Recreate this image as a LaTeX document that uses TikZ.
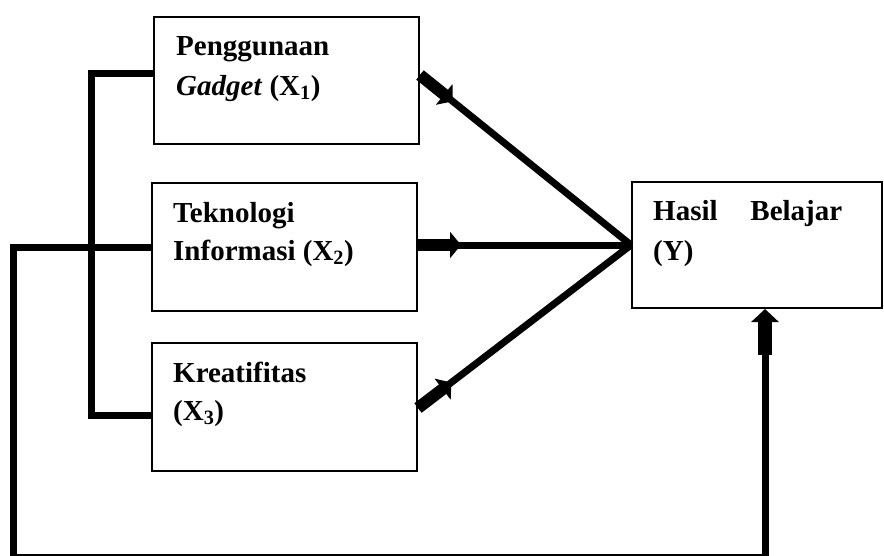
\documentclass[tikz,border=0pt]{standalone}
\usepackage{fontspec}
\setmainfont{Liberation Serif}
\usetikzlibrary{arrows.meta,calc}
\begin{document}
\begin{tikzpicture}[x=1pt,y=-1pt,
  box/.style={draw,line width=2pt,minimum width=265pt,minimum height=128pt,inner sep=0pt},
  lbl/.style={anchor=base west,inner sep=0pt,font=\fontsize{29}{40}\selectfont\bfseries},
  link/.style={line width=7pt,line join=miter,line cap=butt},
  thinline/.style={line width=7pt,line cap=butt},
  head/.style={line width=12pt,line cap=butt,-{Triangle[width=26pt,length=11pt]}},
  uphead/.style={line width=14pt,line cap=butt,-{Triangle[width=27pt,length=13pt]}}]
\useasboundingbox (0,0) rectangle (884,555);
% boxes
\node[box,minimum height=127pt] (x1) at (286.5,80.5) {};
\node[box] (x2) at (284.5,247) {};
\node[box] (x3) at (284.5,407) {};
\node[box,minimum width=250pt,minimum height=126pt] (yb) at (757,245) {};
% texts
\node[lbl] (t1a) at (176,55) {Penggunaan};
\node[lbl] (t1b) at (176,95) {\textit{Gadget} (X\textsubscript{1})};
\node[lbl] (t2a) at (173,222) {Teknologi};
\node[lbl] (t2b) at (173,260) {Informasi (X\textsubscript{2})};
\node[lbl] (t3a) at (173,382) {Kreatifitas};
\node[lbl] (t3b) at (173,420) {(X\textsubscript{3})};
\node[lbl] (tya) at (653,220) {\makebox[189pt][s]{Hasil Belajar}};
\node[lbl] (tyb) at (653,260) {(Y)};
% bracket joining X1 and X3
\coordinate (x1l) at ($(x1.west)+(0,-7.5)$);
\coordinate (x3l) at ($(x3.west)+(0,8)$);
\coordinate (bk) at (91,0);
\draw[link] (x1l) -| (bk |- x3l) -- (x3l);
% outer loop from X2 to Y
\coordinate (ol) at (13,557);
\coordinate (orr) at (765,557);
\coordinate (yin) at ($(yb.south)+(8,0)$);
\coordinate (yarr) at (765,355);
\draw[link] (x2.west) -| (ol) -- (orr) -- (yarr);
\draw[uphead] (yarr) -- (yin);
% arrows to Y
\coordinate (s1) at ($(x1.east)+(0,-5.5)$);
\coordinate (s2) at (x2.east |- yb.west);
\coordinate (s3) at ($(x3.east)+(0,1)$);
\draw[thinline] (s1) -- (yb.west);
\draw[thinline] (s2) -- (yb.west);
\draw[thinline] (s3) -- (yb.west);
\draw[head] (s1) -- ($(s1)!42pt!(yb.west)$);
\draw[head] (s2) -- ($(s2)!43pt!(yb.west)$);
\draw[head] (s3) -- ($(s3)!42pt!(yb.west)$);
\end{tikzpicture}
\end{document}
